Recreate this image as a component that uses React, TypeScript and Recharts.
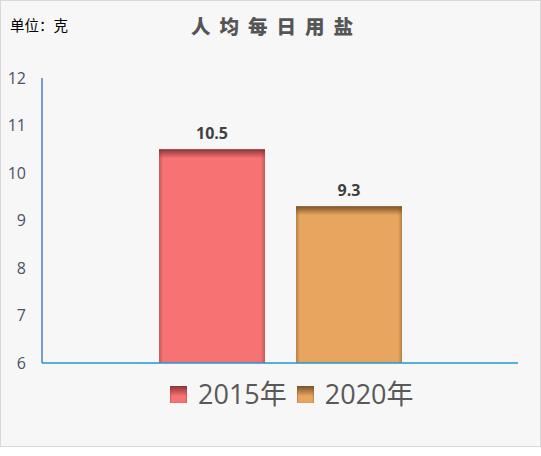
import React from 'react';
import { BarChart, Bar, XAxis, YAxis, LabelList } from 'recharts';

const categories = ['人均每日用盐'];
const seriesNames = ['2015年', '2020年'];
const values2015 = [10.5];
const values2020 = [9.3];
const yTicks = [6, 7, 8, 9, 10, 11, 12];

const COLORS = ['#f77272', '#e8a55f'];
const EDGES = ['#8a3536', '#7a5228'];

const data = categories.map((name, i) => ({
  name,
  y2015: values2015[i],
  y2020: values2020[i],
}));

const FONT = '"Segoe UI", "Open Sans", "Noto Sans CJK SC", sans-serif';

// bar with a darker bevel along its top and faint side shading
const makeShape = (idx: number) => (props: any) => {
  const { x, y, width, height } = props;
  if (!height || height <= 0) return null;
  const id = `g${idx}`;
  return (
    <g>
      <defs>
        <linearGradient id={`${id}t`} x1="0" y1="0" x2="0" y2="1">
          <stop offset="0%" stopColor={EDGES[idx]} stopOpacity={1} />
          <stop offset="100%" stopColor={EDGES[idx]} stopOpacity={0} />
        </linearGradient>
        <linearGradient id={`${id}l`} x1="0" y1="0" x2="1" y2="0">
          <stop offset="0%" stopColor={EDGES[idx]} stopOpacity={0.45} />
          <stop offset="100%" stopColor={EDGES[idx]} stopOpacity={0} />
        </linearGradient>
        <linearGradient id={`${id}r`} x1="1" y1="0" x2="0" y2="0">
          <stop offset="0%" stopColor={EDGES[idx]} stopOpacity={0.45} />
          <stop offset="100%" stopColor={EDGES[idx]} stopOpacity={0} />
        </linearGradient>
      </defs>
      <rect x={x} y={y} width={width} height={height} fill={COLORS[idx]} />
      <rect x={x} y={y} width={4} height={height} fill={`url(#${id}l)`} />
      <rect x={x + width - 4} y={y} width={4} height={height} fill={`url(#${id}r)`} />
      <rect x={x} y={y} width={width} height={Math.min(9, height)} fill={`url(#${id}t)`} />
    </g>
  );
};

const Swatch = ({ idx }: { idx: number }) => (
  <span
    style={{
      display: 'inline-block',
      width: 17,
      height: 17,
      background: `linear-gradient(to bottom, ${EDGES[idx]} 0%, ${COLORS[idx]} 60%)`,
      boxShadow: `inset 1px 0 1px ${EDGES[idx]}55, inset -1px 0 1px ${EDGES[idx]}55`,
      marginRight: 11,
      verticalAlign: 'middle',
      position: 'relative',
      top: -2,
    }}
  />
);

export default function App() {
  return (
    <div
      style={{
        position: 'fixed',
        left: 0,
        top: 0,
        width: 539,
        height: 445,
        border: '1px solid #d9d9d9',
        background: '#f7f7f7',
        fontFamily: FONT,
      }}
    >
      <div
        style={{
          position: 'absolute',
          left: 9,
          top: 13,
          fontSize: 14.5,
          color: '#000',
          fontFamily: '"Noto Sans CJK SC", sans-serif',
        }}
      >
        单位：克
      </div>
      <div
        style={{
          position: 'absolute',
          left: 0,
          top: 10,
          width: 539,
          paddingLeft: 6,
          textAlign: 'center',
          fontSize: 19.5,
          fontWeight: 900,
          letterSpacing: 9,
          color: '#555555',
          fontFamily: '"Noto Sans CJK SC", sans-serif',
        }}
      >
        人均每日用盐
      </div>
      <BarChart
        width={539}
        height={445}
        data={data}
        margin={{ top: 77, right: 22, left: 0, bottom: 82 }}
        barCategoryGap={117}
        barGap={31}
      >
        <XAxis
          dataKey="name"
          height={1}
          tick={false}
          tickLine={false}
          axisLine={{ stroke: '#1d9ad8', strokeWidth: 1.5 }}
        />
        <YAxis
          domain={[6, 12]}
          ticks={yTicks}
          width={41}
          tickLine={false}
          axisLine={{ stroke: '#4a80c8', strokeWidth: 1.5 }}
          tick={{ fill: '#4a5263', fontSize: 16, fontFamily: FONT }}
          tickMargin={10}
        />
        <Bar dataKey="y2015" name={seriesNames[0]} shape={makeShape(0)} isAnimationActive={false}>
          <LabelList
            dataKey="y2015"
            position="top"
            offset={10}
            style={{ fill: '#404040', fontSize: 16, fontWeight: 'bold', fontFamily: FONT }}
          />
        </Bar>
        <Bar dataKey="y2020" name={seriesNames[1]} shape={makeShape(1)} isAnimationActive={false}>
          <LabelList
            dataKey="y2020"
            position="top"
            offset={10}
            style={{ fill: '#404040', fontSize: 16, fontWeight: 'bold', fontFamily: FONT }}
          />
        </Bar>
      </BarChart>
      <div
        style={{
          position: 'absolute',
          left: 169,
          top: 373,
          fontSize: 27,
          color: '#595959',
          lineHeight: '40px',
          whiteSpace: 'nowrap',
        }}
      >
        {seriesNames.map((s, i) => (
          <span key={s} style={{ marginRight: i === 0 ? 10 : 0 }}>
            <Swatch idx={i} />
            {s}
          </span>
        ))}
      </div>
    </div>
  );
}
